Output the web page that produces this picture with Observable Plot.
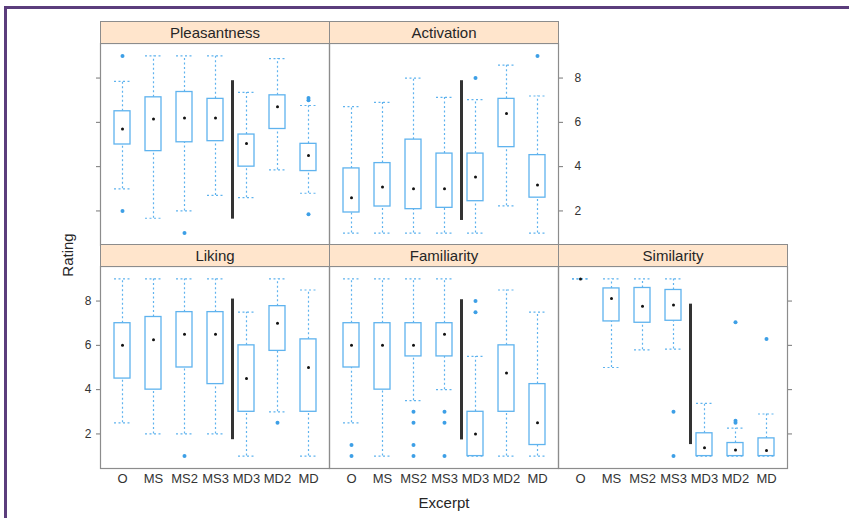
<!DOCTYPE html>
<html><head><meta charset="utf-8">
<script src="https://cdn.jsdelivr.net/npm/d3@7"></script>
<script src="https://cdn.jsdelivr.net/npm/@observablehq/plot@0.6"></script>
<style>
body{margin:0;background:#fff;}
#root{position:relative;width:849px;height:518px;overflow:hidden;font-family:"Liberation Sans",Arial,sans-serif;background:#fff;}
#bTop{position:absolute;left:4px;top:6px;width:845px;height:3px;background:#5b3d7c;}
#bLeft{position:absolute;left:4px;top:6px;width:3px;height:512px;background:#5b3d7c;}
.strip{position:absolute;background:#ffe5cc;border:1px solid #8c8c8c;box-sizing:border-box;text-align:center;font-size:15px;color:#262626;}
.pnl{position:absolute;}
.ttl{position:absolute;font-size:15px;color:#262626;white-space:nowrap;}
</style></head><body><div id="root"><div id="bTop"></div><div id="bLeft"></div></div>
<script>
const excerpts = ["O","MS","MS2","MS3","MD3","MD2","MD"];
const panelNames = ["Pleasantness","Activation","Liking","Familiarity","Similarity"];
const yTicks = [2,4,6,8];

// Pleasantness
const pleasLo  = [3.0, 1.67, 2.0, 2.7, 2.6, 3.85, 2.8];
const pleasQ1  = [5.0, 4.7, 5.1, 5.15, 4.0, 5.7, 3.8];
const pleasMed = [5.7, 6.15, 6.2, 6.2, 5.05, 6.7, 4.5];
const pleasQ3  = [6.5, 7.13, 7.37, 7.06, 5.45, 7.22, 5.03];
const pleasHi  = [7.85, 9.0, 9.0, 9.0, 7.35, 8.88, 6.76];
const pleasOutCat = ["O","O","MS2","MD","MD","MD"];
const pleasOutVal = [9.0, 2.0, 1.0, 7.1, 7.0, 1.85];

// Activation
const activLo  = [1, 1, 1, 1, 1, 2.23, 1];
const activQ1  = [1.93, 2.2, 2.08, 2.14, 2.44, 4.88, 2.6];
const activMed = [2.6, 3.08, 3.0, 3.0, 3.53, 6.4, 3.17];
const activQ3  = [3.92, 4.16, 5.22, 4.59, 4.59, 7.06, 4.52];
const activHi  = [6.71, 6.9, 8.0, 7.13, 7.03, 8.58, 7.19];
const activOutCat = ["MD3","MD"];
const activOutVal = [8.0, 9.0];

// Liking
const likLo  = [2.5, 2, 2, 2, 1, 3, 1];
const likQ1  = [4.5, 4, 5, 4.25, 3, 5.75, 3];
const likMed = [6, 6.25, 6.5, 6.5, 4.5, 7, 5];
const likQ3  = [7, 7.28, 7.5, 7.5, 6, 7.77, 6.27];
const likHi  = [9, 9, 9, 9, 7.5, 9, 8.5];
const likOutCat = ["MS2","MD2"];
const likOutVal = [1, 2.5];

// Familiarity
const famLo  = [2.5, 1, 3.5, 4, 1, 1, 1];
const famQ1  = [5, 4, 5.5, 5.5, 1, 3, 1.5];
const famMed = [6, 6, 6, 6.5, 2, 4.75, 2.5];
const famQ3  = [7, 7, 7, 7, 3, 6, 4.25];
const famHi  = [9, 9, 9, 9, 5.5, 8.5, 7.5];
const famOutCat = ["O","O","MS2","MS2","MS2","MS2","MS3","MS3","MS3","MD3","MD3"];
const famOutVal = [1.5, 1, 3, 2.5, 1.5, 1, 3, 2.5, 1, 8, 7.5];

// Similarity
const simLo  = [9, 5, 5.8, 5.83, 1, 1, 1];
const simQ1  = [9, 7.08, 7.02, 7.11, 1, 1, 1];
const simMed = [9, 8.12, 7.76, 7.82, 1.38, 1.28, 1.25];
const simQ3  = [9, 8.57, 8.59, 8.5, 2.03, 1.59, 1.8];
const simHi  = [9, 9, 9, 9, 3.38, 2.26, 2.9];
const simOutCat = ["MS3","MS3","MD2","MD2","MD2","MD"];
const simOutVal = [3, 1, 7.04, 2.6, 2.5, 6.29];

// separator line (between original/similar and dissimilar excerpts)
const sepAt = "MD3";
const sepLo = [1.63, 1.57, 1.74, 1.73, 1.52];
const sepHi = [7.88, 7.88, 8.09, 8.06, 7.86];

const panelData = [
  [pleasLo, pleasQ1, pleasMed, pleasQ3, pleasHi, pleasOutCat, pleasOutVal],
  [activLo, activQ1, activMed, activQ3, activHi, activOutCat, activOutVal],
  [likLo, likQ1, likMed, likQ3, likHi, likOutCat, likOutVal],
  [famLo, famQ1, famMed, famQ3, famHi, famOutCat, famOutVal],
  [simLo, simQ1, simMed, simQ3, simHi, simOutCat, simOutVal]
];

// layout (pixels)
const PW = 229, PH = 202, ML = 45, MR = 45, MT = 2, MB = 40, SH = 22;
const panelPos = [[100, 43], [329, 43], [100, 266], [329, 266], [558, 266]];
// axis config: [yAnchor, yLabels, xAxis]
const axisCfg = [["left", false, false], ["right", true, false], ["left", true, true], [null, false, true], ["right", false, true]];

const BLUE = "#5fb3ee";
const root = document.getElementById("root");

panelData.forEach((pd, i) => {
  const [lo, q1, med, q3, hi, oc, ov] = pd;
  const rows = excerpts.map((e, j) => ({e, lo: lo[j], q1: q1[j], med: med[j], q3: q3[j], hi: hi[j]}));
  const outs = oc.map((c, j) => ({e: c, v: ov[j]}));
  const [ya, ylab, xax] = axisCfg[i];
  const marks = [
    Plot.ruleX(rows, {x: "e", y1: "q3", y2: "hi", stroke: BLUE, strokeWidth: 1.2, strokeDasharray: "2,2.5"}),
    Plot.ruleX(rows, {x: "e", y1: "lo", y2: "q1", stroke: BLUE, strokeWidth: 1.2, strokeDasharray: "2,2.5"}),
    Plot.tickY(rows, {x: "e", y: "hi", stroke: BLUE, strokeWidth: 1.2, strokeDasharray: "2,2.5"}),
    Plot.tickY(rows, {x: "e", y: "lo", stroke: BLUE, strokeWidth: 1.2, strokeDasharray: "2,2.5"}),
    Plot.barY(rows, {x: "e", y1: "q1", y2: "q3", fill: "white", stroke: BLUE, strokeWidth: 1.3}),
    Plot.dot(rows, {x: "e", y: "med", r: 1.5, fill: "#111", stroke: null}),
    Plot.dot(outs, {x: "e", y: "v", r: 2, fill: "#3d9fe6", stroke: null}),
    Plot.ruleX([{e: sepAt, a: sepLo[i], b: sepHi[i]}], {x: "e", y1: "a", y2: "b", dx: -14, stroke: "#333", strokeWidth: 3}),
    Plot.frame({stroke: "#8c8c8c", strokeWidth: 1.2})
  ];
  if (ya) marks.push(Plot.axisY({anchor: ya, ticks: yTicks, tickSize: 4, tickPadding: ya === "right" ? 12 : 5,
    tickFormat: ylab ? (d => String(d)) : (() => ""), label: null, fontSize: 12, stroke: "#777", color: "#333"}));
  if (xax) marks.push(Plot.axisX({anchor: "bottom", tickSize: 0, tickPadding: 5, label: null, fontSize: 13, color: "#333"}));
  const chart = Plot.plot({
    width: PW + ML + MR, height: PH + MT + MB,
    marginLeft: ML, marginRight: MR, marginTop: MT, marginBottom: MB,
    style: {background: "transparent", fontFamily: "'Liberation Sans', Arial, sans-serif", color: "#333", maxWidth: "none", overflow: "visible"},
    x: {type: "band", domain: excerpts, paddingInner: 0.5, paddingOuter: 0.35, align: 0.5, axis: xax ? undefined : null},
    y: {domain: [0.44, 9.56], axis: ya ? undefined : null},
    marks
  });
  chart.classList.add("pnl");
  chart.style.left = (panelPos[i][0] - ML) + "px";
  chart.style.top = (panelPos[i][1] - MT) + "px";
  root.appendChild(chart);

  const s = document.createElement("div");
  s.className = "strip";
  s.textContent = panelNames[i];
  s.style.left = panelPos[i][0] + "px";
  s.style.top = (panelPos[i][1] - SH) + "px";
  s.style.width = (PW + 1) + "px";
  s.style.height = (SH + 1) + "px";
  s.style.lineHeight = (SH - 1) + "px";
  root.appendChild(s);
});

const yt = document.createElement("div");
yt.className = "ttl"; yt.textContent = "Rating";
yt.style.left = "67px"; yt.style.top = "255px";
yt.style.transform = "translate(-50%,-50%) rotate(-90deg)";
root.appendChild(yt);

const xt = document.createElement("div");
xt.className = "ttl"; xt.textContent = "Excerpt";
xt.style.left = "444px"; xt.style.top = "502px";
xt.style.transform = "translate(-50%,-50%)";
root.appendChild(xt);
</script>
</body></html>
